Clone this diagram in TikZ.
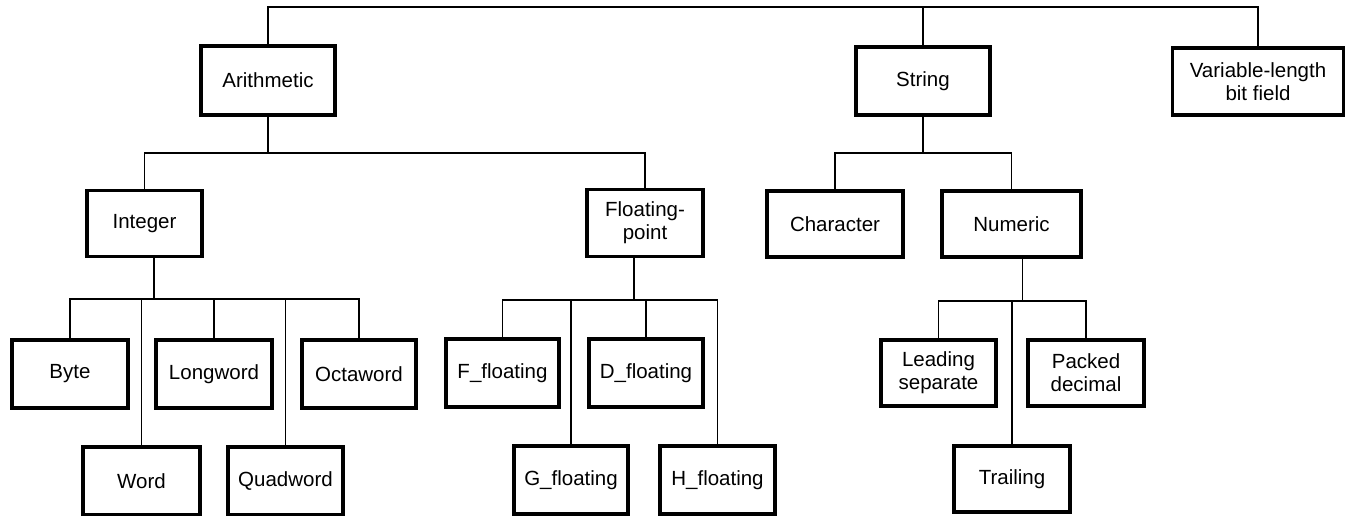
\documentclass[tikz,border=0pt]{standalone}
\usepackage{fontspec}
\setmainfont{Liberation Sans}
\begin{document}
\begin{tikzpicture}[x=1pt,y=-1pt,
  box/.style={draw, line width=3.2pt, rectangle, inner sep=0pt,
              align=center, font=\fontsize{20.5}{23}\selectfont},
  link/.style={line width=1.9pt}]
\useasboundingbox (0,0) rectangle (1346,516);

% top level
\node[box, minimum width=134pt, minimum height=69pt] (arith) at (268,80.5) {Arithmetic};
\node[box, minimum width=134pt, minimum height=68pt] (str) at (923,81) {String};
\node[box, minimum width=171pt, minimum height=67pt] (var) at (1258,81.5) {Variable-length\\bit field};

% second level
\node[box, minimum width=115pt, minimum height=66pt] (int) at (144.5,223.5) {Integer};
\node[box, minimum width=116pt, minimum height=67pt] (flt) at (645,223) {Floating-\\point};
\node[box, minimum width=136pt, minimum height=66pt] (chr) at (835,224) {Character};
\node[box, minimum width=139pt, minimum height=66pt] (num) at (1011.5,224) {Numeric};

% integer types
\node[box, minimum width=116pt, minimum height=68pt] (byte) at (70,374) {Byte};
\node[box, minimum width=116pt, minimum height=68pt] (lword) at (214,374) {Longword};
\node[box, minimum width=114pt, minimum height=68pt] (oword) at (359,374) {Octaword};
\node[box, minimum width=117pt, minimum height=68pt] (word) at (141.5,481) {Word};
\node[box, minimum width=115pt, minimum height=68pt] (qword) at (285.5,481) {Quadword};

% floating-point types
\node[box, minimum width=113pt, minimum height=68pt] (ff) at (502.5,373) {F\_floating};
\node[box, minimum width=114pt, minimum height=68pt] (df) at (646,373) {D\_floating};
\node[box, minimum width=114pt, minimum height=68pt] (gf) at (571,480) {G\_floating};
\node[box, minimum width=115pt, minimum height=68pt] (hf) at (717.5,480) {H\_floating};

% numeric string types
\node[box, minimum width=115pt, minimum height=66pt] (lead) at (938.5,373) {Leading\\separate};
\node[box, minimum width=116pt, minimum height=66pt] (pack) at (1086,373) {Packed\\decimal};
\node[box, minimum width=116pt, minimum height=66pt] (trail) at (1012,479) {Trailing};

% bus levels
\coordinate (ytop) at (0,7);
\coordinate (yarith) at (0,153);
\coordinate (ystr) at (0,153);
\coordinate (yint) at (0,299);
\coordinate (yflt) at (0,300);
\coordinate (ynum) at (0,301);

% root
\draw[link] (arith.north) -- (arith.north |- ytop) -- (var.north |- ytop) -- (var.north);
\draw[link] (str.north) -- (str.north |- ytop);

% arithmetic
\draw[link] (int.north) -- (int.north |- yarith) -- (flt.north |- yarith) -- (flt.north);
\draw[link] (arith.south) -- (arith.south |- yarith);

% string
\draw[link] (chr.north) -- (chr.north |- ystr) -- (num.north |- ystr) -- (num.north);
\draw[link] (str.south) -- (str.south |- ystr);

% integer
\coordinate (intout) at ([xshift=9.5pt]int.south);
\draw[link] (byte.north) -- (byte.north |- yint) -- (oword.north |- yint) -- (oword.north);
\draw[link] (intout) -- (intout |- yint);
\draw[link] (lword.north) -- (lword.north |- yint);
\draw[link] (word.north) -- (word.north |- yint);
\draw[link] (qword.north) -- (qword.north |- yint);

% floating-point
\coordinate (fltout) at ([xshift=-11pt]flt.south);
\draw[link] (ff.north) -- (ff.north |- yflt) -- (hf.north |- yflt) -- (hf.north);
\draw[link] (fltout) -- (fltout |- yflt);
\draw[link] (df.north) -- (df.north |- yflt);
\draw[link] (gf.north) -- (gf.north |- yflt);

% numeric
\coordinate (numout) at ([xshift=11pt]num.south);
\draw[link] (lead.north) -- (lead.north |- ynum) -- (pack.north |- ynum) -- (pack.north);
\draw[link] (numout) -- (numout |- ynum);
\draw[link] (trail.north) -- (trail.north |- ynum);
\end{tikzpicture}
\end{document}
